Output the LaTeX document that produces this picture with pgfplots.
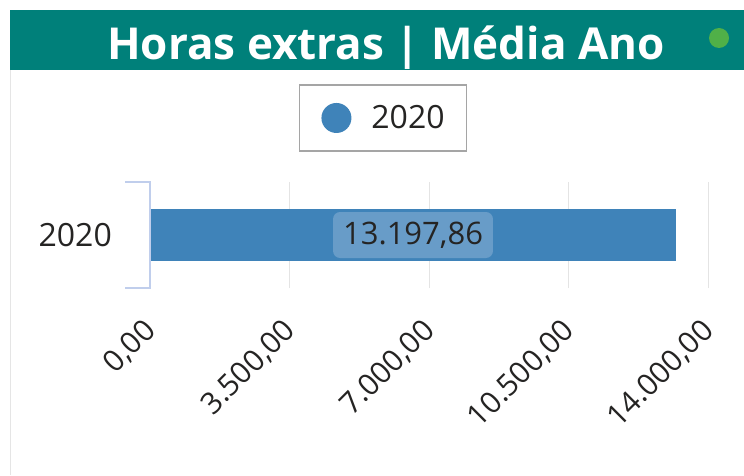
\documentclass[border=0pt]{standalone}
\usepackage{pgfplots}
\pgfplotsset{compat=1.18}
\usepackage{fontspec}
\setmainfont{Open Sans}
\definecolor{bannerteal}{RGB}{0,128,122}
\definecolor{dotgreen}{RGB}{80,176,72}
\definecolor{barblue}{RGB}{63,131,185}
\definecolor{labelblue}{RGB}{104,156,200}
\definecolor{gridgray}{RGB}{228,228,228}
\definecolor{bracketblue}{RGB}{192,206,236}
\definecolor{legendgray}{RGB}{165,165,165}
\definecolor{labeltext}{RGB}{37,36,35}
\begin{document}
\begin{tikzpicture}[x=1pt,y=1pt]
\path[use as bounding box, fill=white] (0,0) rectangle (744,475);
\fill[bannerteal] (10,405) rectangle (744,465);
\draw[gray!20, line width=1pt] (10,405) -- (10,0);
\node[anchor=base, text=white, inner sep=0pt, font=\fontsize{44}{50}\selectfont\bfseries] at (386,415) {Horas extras | Média Ano};
\fill[dotgreen] (719,437) circle (10);
\begin{axis}[
  at={(150pt,187pt)}, anchor=south west,
  scale only axis, width=558pt, height=106pt,
  xmin=0, xmax=14000, ymin=-1, ymax=1,
  scaled x ticks=false,
  xtick={0,3500,7000,10500,14000},
  xticklabels={{0,00},{3.500,00},{7.000,00},{10.500,00},{14.000,00}},
  ytick={0}, yticklabels={2020},
  axis line style={draw=none},
  major tick length=0pt,
  xmajorgrids, grid style={gridgray, line width=1pt},
  tick label style={text=labeltext},
  xticklabel style={font=\fontsize{30}{34}\selectfont, xshift=1pt, yshift=-38pt, rotate=45, anchor=east, inner sep=0pt},
  yticklabel style={font=\fontsize{32}{36}\selectfont, anchor=east, inner sep=0pt, xshift=-38pt},
  clip=false,
  legend style={at={(axis description cs:0.4176,1.604)}, anchor=center,
    draw=legendgray, line width=1.2pt, inner xsep=22pt, inner ysep=18pt,
    font=\fontsize{32}{36}\selectfont, text=labeltext,
    nodes={inner sep=0pt},
    /tikz/every odd column/.append style={column sep=20pt}},
  legend image code/.code={\fill[barblue] (15pt,0pt) circle (15pt);},
]
\addplot[xbar, bar width=52pt, fill=barblue, draw=none] coordinates {(13197.86,0)};
\addlegendentry{2020}
\addplot[draw=none, mark=none, forget plot, nodes near coords, point meta=explicit symbolic,
  every node near coord/.style={anchor=center, fill=labelblue, rounded corners=7pt,
    inner xsep=10pt, inner ysep=0pt, minimum height=46pt, text=labeltext, font=\fontsize{31}{34}\selectfont}]
  coordinates {(6598.93,0) [{13.197,86}]};
\draw[bracketblue, line width=1.2pt] ([xshift=-25pt]rel axis cs:0,1) -- (rel axis cs:0,1) -- (rel axis cs:0,0) -- ([xshift=-25pt]rel axis cs:0,0);
\end{axis}
\end{tikzpicture}
\end{document}
